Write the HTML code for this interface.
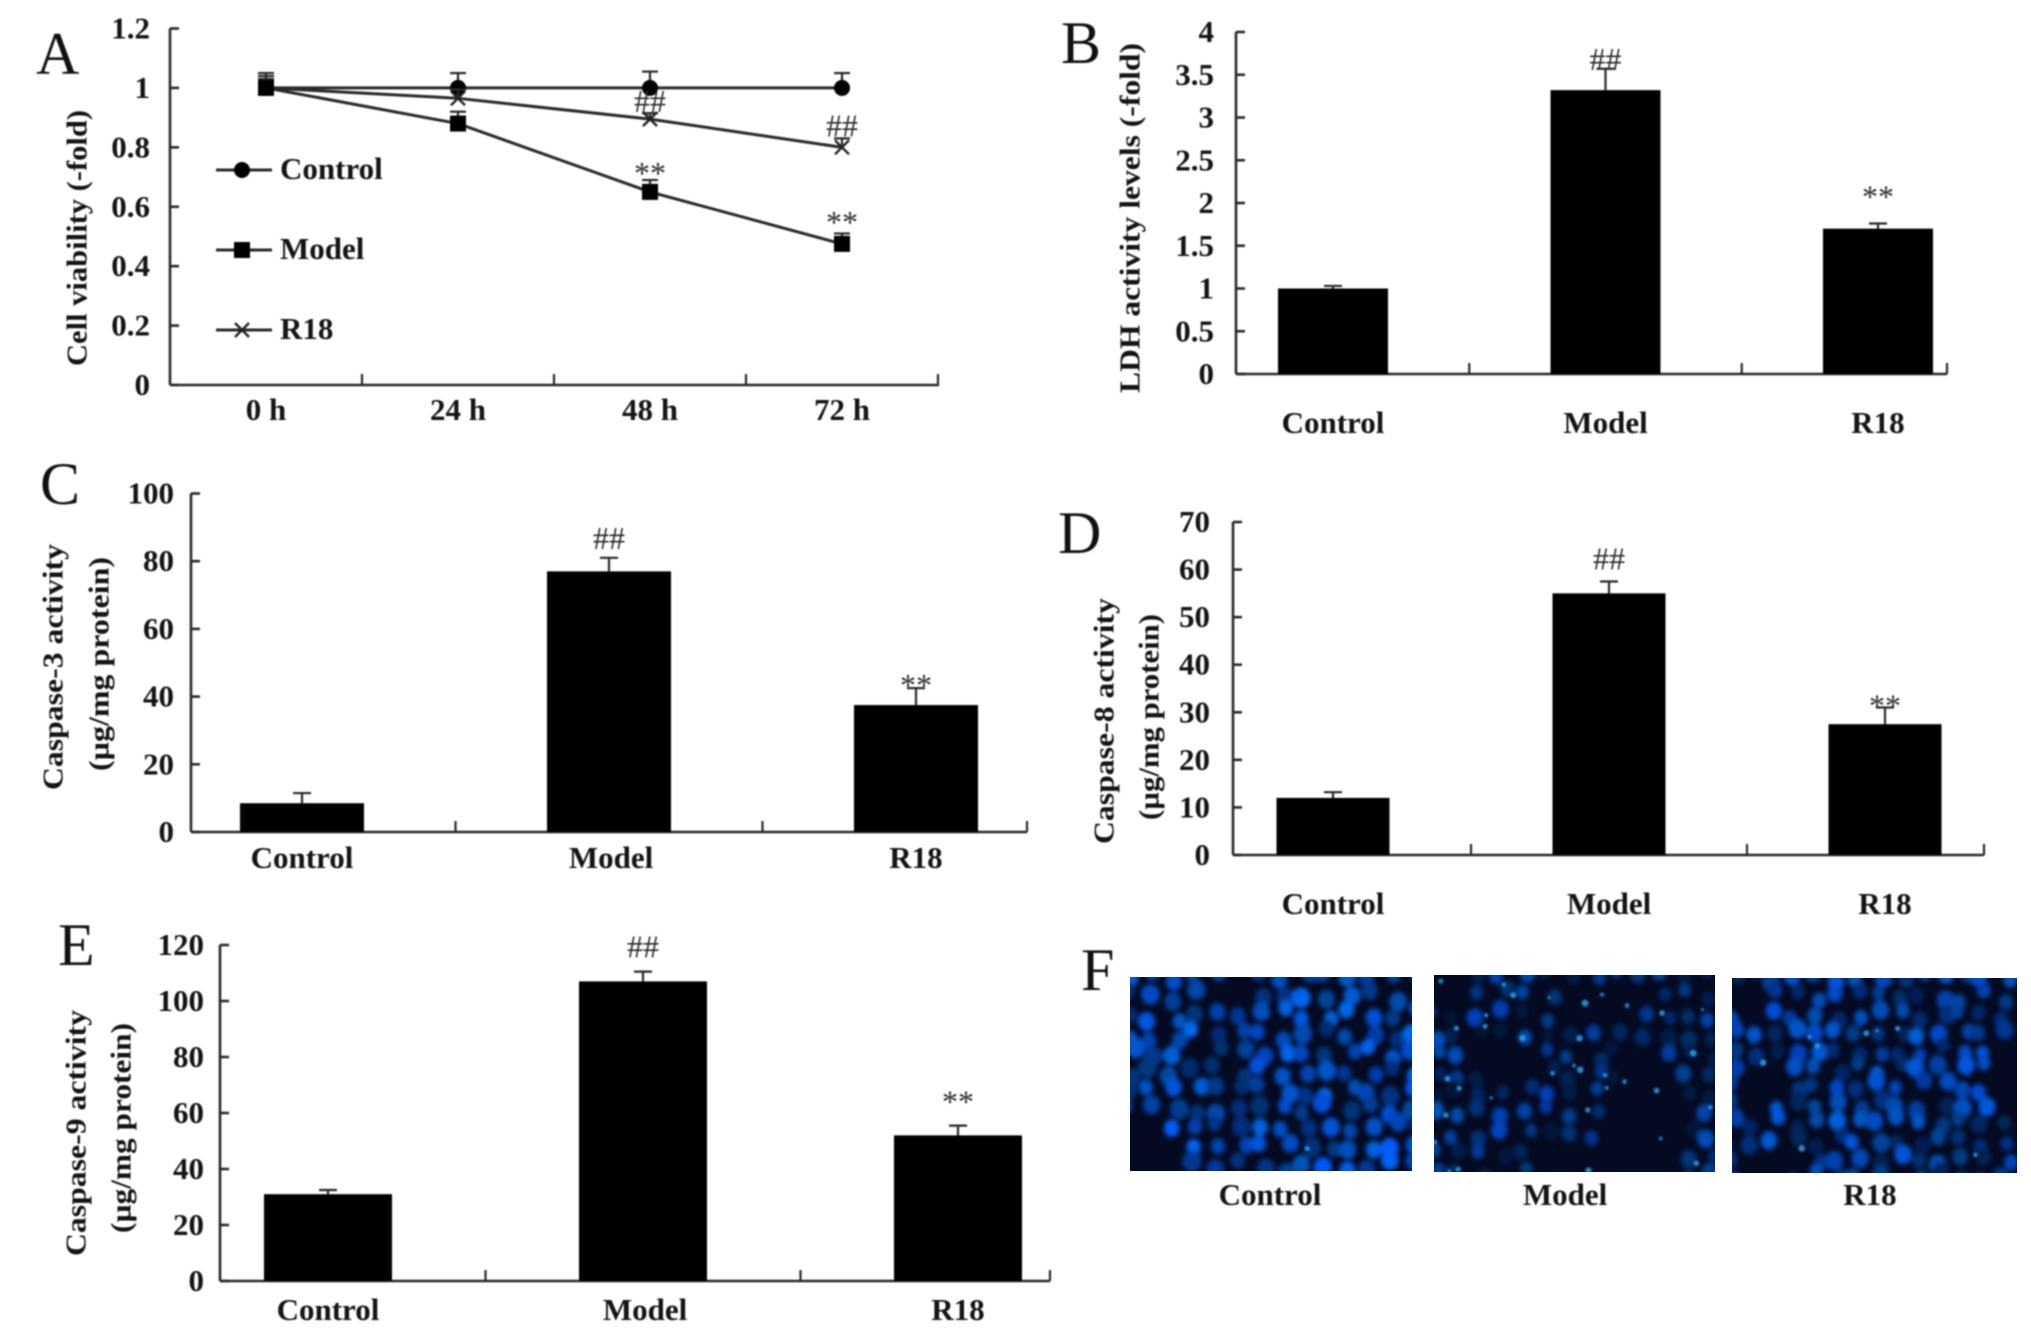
<!DOCTYPE html>
<html lang="en">
<head>
<meta charset="utf-8">
<title>Cell viability, LDH and caspase activity panels</title>
<style>
html,body{margin:0;padding:0;background:#fff;width:2031px;height:1344px;overflow:hidden}
svg{display:block;font-family:"Liberation Serif",serif}
#charts{filter:blur(.7px)}
text{fill:#141414}
</style>
</head>
<body>
<svg id="figure" width="2031" height="1344" viewBox="0 0 2031 1344" xmlns="http://www.w3.org/2000/svg">
  <defs>
    <filter id="nucleus-blur" x="-5%" y="-5%" width="110%" height="110%"><feGaussianBlur stdDeviation="2.3"/></filter>
    <filter id="spot-blur" x="-5%" y="-5%" width="110%" height="110%"><feGaussianBlur stdDeviation="1"/></filter>
    <clipPath id="clip-control"><rect x="1130" y="977" width="282" height="194"/></clipPath>
    <clipPath id="clip-model"><rect x="1434" y="975" width="281" height="197"/></clipPath>
    <clipPath id="clip-r18"><rect x="1732" y="978" width="285" height="195"/></clipPath>
  </defs>
  <g id="charts"></g>
  <g id="photos"></g>
</svg>
<script>
/* ---- Data ---- */
const timeLabels = ['0 h', '24 h', '48 h', '72 h'];
const controlViability = [1, 1, 1, 1];
const controlViabilityErr = [0.05, 0.05, 0.055, 0.05];
const modelViability = [1, 0.88, 0.65, 0.475];
const modelViabilityErr = [0.04, 0.04, 0.04, 0.035];
const r18Viability = [1, 0.965, 0.895, 0.8];
const r18ViabilityErr = [0.03, 0.03, 0.02, 0.03];
const viabilityTicks = ['0', '0.2', '0.4', '0.6', '0.8', '1', '1.2'];

const groupLabels = ['Control', 'Model', 'R18'];

const ldhValues = [1, 3.32, 1.7];
const ldhErrors = [0.03, 0.25, 0.06];
const ldhTicks = ['0', '0.5', '1', '1.5', '2', '2.5', '3', '3.5', '4'];

const casp3Values = [8.5, 77, 37.5];
const casp3Errors = [3, 4, 5];
const casp3Ticks = ['0', '20', '40', '60', '80', '100'];

const casp8Values = [12, 55, 27.5];
const casp8Errors = [1.2, 2.5, 3.5];
const casp8Ticks = ['0', '10', '20', '30', '40', '50', '60', '70'];

const casp9Values = [31, 107, 52];
const casp9Errors = [1.5, 3.5, 3.5];
const casp9Ticks = ['0', '20', '40', '60', '80', '100', '120'];

/* ---- Drawing helpers ---- */
const NS = 'http://www.w3.org/2000/svg';
const charts = document.getElementById('charts');

function make(parent, tag, attrs, name, text) {
  const el = document.createElementNS(NS, tag);
  for (const k in attrs) el.setAttribute(k, attrs[k]);
  
  
  if (text !== undefined) el.textContent = text;
  parent.appendChild(el);
  return el;
}

function label(parent, x, y, str, name, opts) {
  return make(parent, 'text', Object.assign({x: x, y: y, 'font-size': 31, 'font-weight': 'bold', 'text-anchor': 'middle'}, opts || {}), name, str);
}

function rotatedTitle(parent, cx, cy, str, len, name) {
  return make(parent, 'text', {
    transform: 'translate(' + cx + ' ' + cy + ') rotate(-90)',
    'text-anchor': 'middle', 'dominant-baseline': 'central',
    'font-size': 28, 'font-weight': 'bold',
    textLength: len, lengthAdjust: 'spacingAndGlyphs'
  }, name, str);
}

function drawAxes(g, p, yScale, ticks, tickX) {
  make(g, 'line', {x1: p.x0, y1: p.yTop, x2: p.x0, y2: p.yBase, stroke: '#2a2a2a', 'stroke-width': 2.6}, 'y-axis');
  make(g, 'line', {x1: p.x0, y1: p.yBase, x2: p.x1, y2: p.yBase, stroke: '#2a2a2a', 'stroke-width': 2.6}, 'x-axis');
  ticks.forEach(function (t) {
    const y = yScale(parseFloat(t));
    make(g, 'line', {x1: p.x0, y1: y, x2: p.x0 + 9, y2: y, stroke: '#2a2a2a', 'stroke-width': 2.6}, 'y-tick');
    label(g, p.x0 - p.tickGap, y + 10, t, 'y-tick-label', {'text-anchor': 'end'});
  });
  tickX.forEach(function (x) {
    make(g, 'line', {x1: x, y1: p.yBase, x2: x, y2: p.yBase - 11, stroke: '#2a2a2a', 'stroke-width': 2.2}, 'x-tick');
  });
}

function drawMark(g, x, yCenter, kind) {
  if (kind === '##') {
    make(g, 'text', {x: x, y: yCenter + 10, 'font-size': 32, 'text-anchor': 'middle', style: 'fill:#2c2c2c'}, 'significance-hash', '##');
  } else {
    make(g, 'text', {x: x, y: yCenter + 13, 'font-size': 32, 'text-anchor': 'middle', style: 'fill:#2c2c2c'}, 'significance-star', '**');
  }
}

function drawBarPanel(p, values, errors, ticks, maxVal) {
  const g = make(charts, 'g', {}, p.name);
  const y = function (v) { return p.yBase - (v / maxVal) * (p.yBase - p.yTop); };
  const cx = function (i) { return p.c0 + i * p.step; };
  const tickX = [cx(0) + p.step / 2, cx(1) + p.step / 2, p.x1];
  drawAxes(g, p, y, ticks, tickX);
  values.forEach(function (v, i) {
    const top = y(v + errors[i]);
    make(g, 'line', {x1: cx(i), y1: y(v), x2: cx(i), y2: top, stroke: '#2a2a2a', 'stroke-width': 2.2}, 'error-bar-' + groupLabels[i].toLowerCase());
    make(g, 'line', {x1: cx(i) - 9, y1: top, x2: cx(i) + 9, y2: top, stroke: '#2a2a2a', 'stroke-width': 2.2}, 'error-cap-' + groupLabels[i].toLowerCase());
    make(g, 'rect', {x: cx(i) - p.barW / 2, y: y(v), width: p.barW, height: p.yBase - y(v), fill: '#000'}, 'bar-' + groupLabels[i].toLowerCase());
    label(g, cx(i) + (i === 1 ? p.modelLabelShift : 0), p.labelY, groupLabels[i], 'x-label-' + groupLabels[i].toLowerCase());
  });
  drawMark(g, cx(1), y(values[1] + errors[1]) - p.hashGap, '##');
  drawMark(g, cx(2), y(values[2] + errors[2]) - p.starGap, '**');
  return g;
}

/* ---- Panel A: line chart ---- */
(function () {
  const p = {x0: 170, x1: 939, yTop: 28.5, yBase: 385, tickGap: 20};
  const g = make(charts, 'g', {}, 'panel-a-viability');
  const y = function (v) { return p.yBase - (v / 1.2) * (p.yBase - p.yTop); };
  const x = function (i) { return 266 + i * 192; };
  const tickX = timeLabels.map(function (_, i) { return p.x0 + (i + 1) * 192; });
  drawAxes(g, p, y, viabilityTicks, tickX);
  timeLabels.forEach(function (t, i) { label(g, x(i), 420, t, 'x-label-time'); });

  function series(vals, errs, name, marker) {
    const s = make(g, 'g', {}, 'series-' + name);
    make(s, 'polyline', {
      points: vals.map(function (v, i) { return x(i) + ',' + y(v); }).join(' '),
      fill: 'none', stroke: '#2a2a2a', 'stroke-width': 3
    }, 'line-' + name);
    vals.forEach(function (v, i) {
      const top = y(v + errs[i]);
      make(s, 'line', {x1: x(i), y1: y(v), x2: x(i), y2: top, stroke: '#2a2a2a', 'stroke-width': 2.2}, 'error-bar-' + name);
      make(s, 'line', {x1: x(i) - 8, y1: top, x2: x(i) + 8, y2: top, stroke: '#2a2a2a', 'stroke-width': 2.2}, 'error-cap-' + name);
      marker(s, x(i), y(v), name);
    });
  }
  function circleMark(s, cx, cy, name) {
    make(s, 'circle', {cx: cx, cy: cy, r: 8, fill: '#000'}, 'point-' + name);
  }
  function squareMark(s, cx, cy, name) {
    make(s, 'rect', {x: cx - 8, y: cy - 8, width: 16, height: 16, fill: '#000'}, 'point-' + name);
  }
  function crossMark(s, cx, cy, name) {
    make(s, 'path', {d: 'M' + (cx - 7) + ' ' + (cy - 7) + 'L' + (cx + 7) + ' ' + (cy + 7) + 'M' + (cx + 7) + ' ' + (cy - 7) + 'L' + (cx - 7) + ' ' + (cy + 7), stroke: '#222', 'stroke-width': 2.4, fill: 'none'}, 'point-' + name);
  }
  series(controlViability, controlViabilityErr, 'control', circleMark);
  series(r18Viability, r18ViabilityErr, 'r18', crossMark);
  series(modelViability, modelViabilityErr, 'model', squareMark);

  drawMark(g, x(2), y(r18Viability[2]) - 17, '##');
  drawMark(g, x(3), y(r18Viability[3]) - 21, '##');
  drawMark(g, x(2), y(modelViability[2]) - 21, '**');
  drawMark(g, x(3), y(modelViability[3]) - 24, '**');

  rotatedTitle(g, 78, 238, 'Cell viability (-fold)', 256, 'y-axis-title');

  const legendRows = [['Control', 170, circleMark], ['Model', 250, squareMark], ['R18', 330, crossMark]];
  legendRows.forEach(function (r) {
    const e = make(g, 'g', {}, 'legend-entry-' + r[0].toLowerCase());
    make(e, 'line', {x1: 216, y1: r[1], x2: 272, y2: r[1], stroke: '#2a2a2a', 'stroke-width': 3}, 'legend-line');
    r[2](e, 242, r[1], r[0].toLowerCase());
    label(e, 280, r[1] + 9, r[0], 'legend-label', {'text-anchor': 'start'});
  });
})();

/* ---- Panels B–E: bar charts ---- */
const gB = drawBarPanel({name: 'panel-b-ldh', x0: 1236, x1: 1947, yTop: 32, yBase: 374, tickGap: 22, c0: 1333, step: 272.5, barW: 110, labelY: 433, hashGap: 9, starGap: 29, modelLabelShift: 0}, ldhValues, ldhErrors, ldhTicks, 4);
rotatedTitle(gB, 1131, 218, 'LDH activity levels (-fold)', 350, 'y-axis-title');

const gC = drawBarPanel({name: 'panel-c-caspase-3', x0: 191, x1: 1027, yTop: 493.5, yBase: 832, tickGap: 17, c0: 302, step: 307, barW: 124, labelY: 868, hashGap: 19, starGap: 5, modelLabelShift: 2}, casp3Values, casp3Errors, casp3Ticks, 100);
rotatedTitle(gC, 54, 667, 'Caspase-3 activity', 246, 'y-axis-title');
rotatedTitle(gC, 100, 664, '(µg/mg protein)', 214, 'y-axis-subtitle');

const gD = drawBarPanel({name: 'panel-d-caspase-8', x0: 1233, x1: 1984, yTop: 522, yBase: 855, tickGap: 23, c0: 1333, step: 276, barW: 113, labelY: 914, hashGap: 22, starGap: 4, modelLabelShift: 0}, casp8Values, casp8Errors, casp8Ticks, 70);
rotatedTitle(gD, 1105, 721, 'Caspase-8 activity', 246, 'y-axis-title');
rotatedTitle(gD, 1150, 717, '(µg/mg protein)', 206, 'y-axis-subtitle');

const gE = drawBarPanel({name: 'panel-e-caspase-9', x0: 220, x1: 1050, yTop: 945, yBase: 1281, tickGap: 16, c0: 328, step: 315, barW: 128, labelY: 1320, hashGap: 24, starGap: 26, modelLabelShift: 2}, casp9Values, casp9Errors, casp9Ticks, 120);
rotatedTitle(gE, 77, 1133, 'Caspase-9 activity', 246, 'y-axis-title');
rotatedTitle(gE, 122, 1128, '(µg/mg protein)', 210, 'y-axis-subtitle');

/* ---- Panel letters ---- */
[['A', 36, 74], ['B', 1061, 63], ['C', 40, 504], ['D', 1058, 553], ['E', 58, 965], ['F', 1081, 990]].forEach(function (l) {
  make(charts, 'text', {x: l[1], y: l[2], 'font-size': 60, style: 'fill:#111'}, 'panel-letter-' + l[0].toLowerCase(), l[0]);
});

/* ---- Panel F: photo-like fluorescence texture (decorative, not chart data) ---- */
function seeded(a) {
  return function () {
    a = (a + 0x6D2B79F5) | 0;
    let t = Math.imul(a ^ (a >>> 15), 1 | a);
    t = (t + Math.imul(t ^ (t >>> 7), 61 | t)) ^ t;
    return ((t ^ (t >>> 14)) >>> 0) / 4294967296;
  };
}
function inDark(u, v, darks) {
  return darks.some(function (d) {
    const a = (u - d[0]) / d[2], b = (v - d[1]) / d[3];
    return a * a + b * b < 1;
  });
}
const photos = document.getElementById('photos');
const photoDefs = [
  {name: 'control', title: 'Control', x: 1130, y: 977, w: 282, h: 194, seed: 11, clip: 'clip-control', light: 44, spots: 1, gap: 22, rad: 7, labelX: 1270, labelY: 1205,
   darks: [[0.03, 0.95, 0.13, 0.2], [0.36, 0.05, 0.07, 0.09], [0.25, 0.35, 0.06, 0.08]]},
  {name: 'model', title: 'Model', x: 1434, y: 975, w: 281, h: 197, seed: 27, clip: 'clip-model', light: 32, spots: 34, gap: 23, rad: 6, labelX: 1565, labelY: 1205,
   darks: [[0.76, 0.72, 0.15, 0.34], [0.25, 0.42, 0.11, 0.12], [0.6, 0.15, 0.18, 0.09], [0.55, 0.95, 0.22, 0.11], [0.05, 0.05, 0.08, 0.13]]},
  {name: 'r18', title: 'R18', x: 1732, y: 978, w: 285, h: 195, seed: 43, clip: 'clip-r18', light: 38, spots: 8, gap: 21, rad: 6.5, labelX: 1870, labelY: 1205,
   darks: [[0.97, 0.5, 0.07, 0.2], [0.09, 0.55, 0.07, 0.14], [0.05, 0.1, 0.09, 0.11], [0.12, 0.95, 0.11, 0.11]]}
];
photoDefs.forEach(function (d) {
  const rnd = seeded(d.seed);
  const g = make(photos, 'g', {}, 'micrograph-' + d.name);
  make(g, 'rect', {x: d.x, y: d.y, width: d.w, height: d.h, fill: '#030a22'}, 'micrograph-background');
  const layer = make(g, 'g', {'clip-path': 'url(#' + d.clip + ')'}, 'nuclei-clip');
  const blurred = make(layer, 'g', {filter: 'url(#nucleus-blur)'}, 'nuclei');
  for (let yy = d.y; yy < d.y + d.h + 6; yy += d.gap * 0.86) {
    for (let xx = d.x; xx < d.x + d.w + 6; xx += d.gap) {
      const cx = xx + (rnd() - 0.5) * d.gap * 0.6, cy = yy + (rnd() - 0.5) * d.gap * 0.6;
      const r1 = rnd(), r2 = rnd(), r3 = rnd();
      if (inDark((cx - d.x) / d.w, (cy - d.y) / d.h, d.darks)) continue;
      const n = document.createElementNS(NS, 'ellipse');
      n.setAttribute('cx', cx);
      n.setAttribute('cy', cy);
      n.setAttribute('rx', d.rad + r1 * 2.5);
      n.setAttribute('ry', d.rad + 1 + r1 * 2.5);
      n.setAttribute('fill', 'hsl(' + (214 + r2 * 6) + ',95%,' + (d.light - 22 + r3 * 28) + '%)');
      
      
      blurred.appendChild(n);
    }
  }
  const spotLayer = make(layer, 'g', {filter: 'url(#spot-blur)'}, 'bright-spots');
  for (let i = 0; i < d.spots; i++) {
    const sx = d.x + rnd() * d.w, sy = d.y + rnd() * d.h;
    const s = document.createElementNS(NS, 'circle');
    s.setAttribute('cx', sx);
    s.setAttribute('cy', sy);
    s.setAttribute('r', 1.5 + rnd() * 2);
    s.setAttribute('fill', '#2a9fe8');
    s.setAttribute('opacity', '0.85');
    
    
    spotLayer.appendChild(s);
  }
  make(charts, 'text', {x: d.labelX, y: d.labelY, 'font-size': 31, 'font-weight': 'bold', 'text-anchor': 'middle'}, 'micrograph-label-' + d.name, d.title);
});
</script>
</body>
</html>
